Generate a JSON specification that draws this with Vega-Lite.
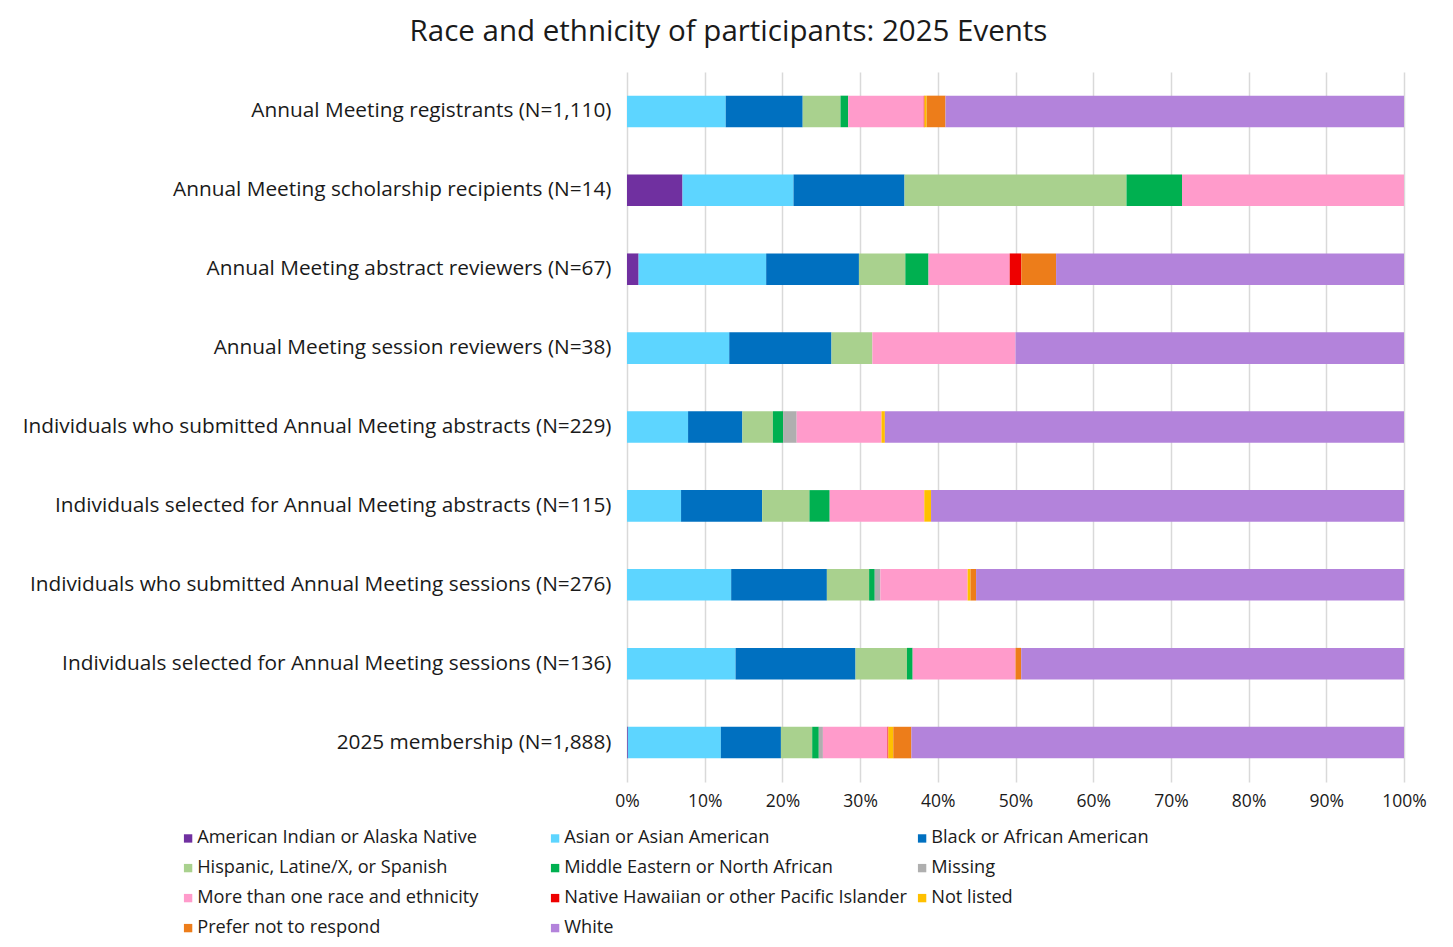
{
  "$schema": "https://vega.github.io/schema/vega-lite/v6.json",
  "width": 777,
  "height": 710,
  "autosize": {"type": "none"},
  "padding": {"left": 627, "top": 72, "right": 49, "bottom": 165},
  "background": "white",
  "title": {
    "text": "Race and ethnicity of participants: 2025 Events",
    "font": "Open Sans",
    "fontSize": 29.5,
    "fontWeight": "normal",
    "color": "#1a1a1a",
    "anchor": "middle",
    "frame": "group",
    "dx": -287,
    "offset": 25
  },
  "config": {
    "view": {"stroke": null},
    "font": "Open Sans"
  },
  "data": {
    "values": [
      {"group": "Annual Meeting registrants (N=1,110)", "race": "Asian or Asian American", "n": 141},
      {"group": "Annual Meeting registrants (N=1,110)", "race": "Black or African American", "n": 110},
      {"group": "Annual Meeting registrants (N=1,110)", "race": "Hispanic, Latine/X, or Spanish", "n": 54},
      {"group": "Annual Meeting registrants (N=1,110)", "race": "Middle Eastern or North African", "n": 11},
      {"group": "Annual Meeting registrants (N=1,110)", "race": "More than one race and ethnicity", "n": 108},
      {"group": "Annual Meeting registrants (N=1,110)", "race": "Native Hawaiian or other Pacific Islander", "n": 1},
      {"group": "Annual Meeting registrants (N=1,110)", "race": "Not listed", "n": 3},
      {"group": "Annual Meeting registrants (N=1,110)", "race": "Prefer not to respond", "n": 27},
      {"group": "Annual Meeting registrants (N=1,110)", "race": "White", "n": 655},

      {"group": "Annual Meeting scholarship recipients (N=14)", "race": "American Indian or Alaska Native", "n": 1},
      {"group": "Annual Meeting scholarship recipients (N=14)", "race": "Asian or Asian American", "n": 2},
      {"group": "Annual Meeting scholarship recipients (N=14)", "race": "Black or African American", "n": 2},
      {"group": "Annual Meeting scholarship recipients (N=14)", "race": "Hispanic, Latine/X, or Spanish", "n": 4},
      {"group": "Annual Meeting scholarship recipients (N=14)", "race": "Middle Eastern or North African", "n": 1},
      {"group": "Annual Meeting scholarship recipients (N=14)", "race": "More than one race and ethnicity", "n": 4},

      {"group": "Annual Meeting abstract reviewers (N=67)", "race": "American Indian or Alaska Native", "n": 1},
      {"group": "Annual Meeting abstract reviewers (N=67)", "race": "Asian or Asian American", "n": 11},
      {"group": "Annual Meeting abstract reviewers (N=67)", "race": "Black or African American", "n": 8},
      {"group": "Annual Meeting abstract reviewers (N=67)", "race": "Hispanic, Latine/X, or Spanish", "n": 4},
      {"group": "Annual Meeting abstract reviewers (N=67)", "race": "Middle Eastern or North African", "n": 2},
      {"group": "Annual Meeting abstract reviewers (N=67)", "race": "More than one race and ethnicity", "n": 7},
      {"group": "Annual Meeting abstract reviewers (N=67)", "race": "Native Hawaiian or other Pacific Islander", "n": 1},
      {"group": "Annual Meeting abstract reviewers (N=67)", "race": "Prefer not to respond", "n": 3},
      {"group": "Annual Meeting abstract reviewers (N=67)", "race": "White", "n": 30},

      {"group": "Annual Meeting session reviewers (N=38)", "race": "Asian or Asian American", "n": 5},
      {"group": "Annual Meeting session reviewers (N=38)", "race": "Black or African American", "n": 5},
      {"group": "Annual Meeting session reviewers (N=38)", "race": "Hispanic, Latine/X, or Spanish", "n": 2},
      {"group": "Annual Meeting session reviewers (N=38)", "race": "More than one race and ethnicity", "n": 7},
      {"group": "Annual Meeting session reviewers (N=38)", "race": "White", "n": 19},

      {"group": "Individuals who submitted Annual Meeting abstracts (N=229)", "race": "Asian or Asian American", "n": 18},
      {"group": "Individuals who submitted Annual Meeting abstracts (N=229)", "race": "Black or African American", "n": 16},
      {"group": "Individuals who submitted Annual Meeting abstracts (N=229)", "race": "Hispanic, Latine/X, or Spanish", "n": 9},
      {"group": "Individuals who submitted Annual Meeting abstracts (N=229)", "race": "Middle Eastern or North African", "n": 3},
      {"group": "Individuals who submitted Annual Meeting abstracts (N=229)", "race": "Missing", "n": 4},
      {"group": "Individuals who submitted Annual Meeting abstracts (N=229)", "race": "More than one race and ethnicity", "n": 25},
      {"group": "Individuals who submitted Annual Meeting abstracts (N=229)", "race": "Not listed", "n": 1},
      {"group": "Individuals who submitted Annual Meeting abstracts (N=229)", "race": "White", "n": 153},

      {"group": "Individuals selected for Annual Meeting abstracts (N=115)", "race": "Asian or Asian American", "n": 8},
      {"group": "Individuals selected for Annual Meeting abstracts (N=115)", "race": "Black or African American", "n": 12},
      {"group": "Individuals selected for Annual Meeting abstracts (N=115)", "race": "Hispanic, Latine/X, or Spanish", "n": 7},
      {"group": "Individuals selected for Annual Meeting abstracts (N=115)", "race": "Middle Eastern or North African", "n": 3},
      {"group": "Individuals selected for Annual Meeting abstracts (N=115)", "race": "More than one race and ethnicity", "n": 14},
      {"group": "Individuals selected for Annual Meeting abstracts (N=115)", "race": "Not listed", "n": 1},
      {"group": "Individuals selected for Annual Meeting abstracts (N=115)", "race": "White", "n": 70},

      {"group": "Individuals who submitted Annual Meeting sessions (N=276)", "race": "Asian or Asian American", "n": 37},
      {"group": "Individuals who submitted Annual Meeting sessions (N=276)", "race": "Black or African American", "n": 34},
      {"group": "Individuals who submitted Annual Meeting sessions (N=276)", "race": "Hispanic, Latine/X, or Spanish", "n": 15},
      {"group": "Individuals who submitted Annual Meeting sessions (N=276)", "race": "Middle Eastern or North African", "n": 2},
      {"group": "Individuals who submitted Annual Meeting sessions (N=276)", "race": "Missing", "n": 2},
      {"group": "Individuals who submitted Annual Meeting sessions (N=276)", "race": "More than one race and ethnicity", "n": 31},
      {"group": "Individuals who submitted Annual Meeting sessions (N=276)", "race": "Not listed", "n": 1},
      {"group": "Individuals who submitted Annual Meeting sessions (N=276)", "race": "Prefer not to respond", "n": 2},
      {"group": "Individuals who submitted Annual Meeting sessions (N=276)", "race": "White", "n": 152},

      {"group": "Individuals selected for Annual Meeting sessions (N=136)", "race": "Asian or Asian American", "n": 19},
      {"group": "Individuals selected for Annual Meeting sessions (N=136)", "race": "Black or African American", "n": 21},
      {"group": "Individuals selected for Annual Meeting sessions (N=136)", "race": "Hispanic, Latine/X, or Spanish", "n": 9},
      {"group": "Individuals selected for Annual Meeting sessions (N=136)", "race": "Middle Eastern or North African", "n": 1},
      {"group": "Individuals selected for Annual Meeting sessions (N=136)", "race": "More than one race and ethnicity", "n": 18},
      {"group": "Individuals selected for Annual Meeting sessions (N=136)", "race": "Prefer not to respond", "n": 1},
      {"group": "Individuals selected for Annual Meeting sessions (N=136)", "race": "White", "n": 67},

      {"group": "2025 membership (N=1,888)", "race": "American Indian or Alaska Native", "n": 2},
      {"group": "2025 membership (N=1,888)", "race": "Asian or Asian American", "n": 226},
      {"group": "2025 membership (N=1,888)", "race": "Black or African American", "n": 146},
      {"group": "2025 membership (N=1,888)", "race": "Hispanic, Latine/X, or Spanish", "n": 76},
      {"group": "2025 membership (N=1,888)", "race": "Middle Eastern or North African", "n": 16},
      {"group": "2025 membership (N=1,888)", "race": "Missing", "n": 10},
      {"group": "2025 membership (N=1,888)", "race": "More than one race and ethnicity", "n": 157},
      {"group": "2025 membership (N=1,888)", "race": "Native Hawaiian or other Pacific Islander", "n": 2},
      {"group": "2025 membership (N=1,888)", "race": "Not listed", "n": 12},
      {"group": "2025 membership (N=1,888)", "race": "Prefer not to respond", "n": 44},
      {"group": "2025 membership (N=1,888)", "race": "White", "n": 1197}
    ]
  },
  "mark": {"type": "bar"},
  "encoding": {
    "y": {
      "field": "group",
      "type": "nominal",
      "sort": null,
      "scale": {"paddingInner": 0.6, "paddingOuter": 0.3},
      "axis": {
        "title": null,
        "domain": false,
        "ticks": false,
        "labelFont": "Open Sans",
        "labelFontSize": 20.8,
        "labelColor": "#1a1a1a",
        "labelPadding": 16,
        "labelLimit": 700
      }
    },
    "x": {
      "field": "n",
      "type": "quantitative",
      "stack": "normalize",
      "scale": {"domain": [0, 1], "nice": false},
      "axis": {
        "title": null,
        "format": ".0%",
        "values": [0, 0.1, 0.2, 0.3, 0.4, 0.5, 0.6, 0.7, 0.8, 0.9, 1],
        "domain": false,
        "ticks": false,
        "grid": true,
        "gridColor": "#d9d9d9",
        "gridWidth": 1.5,
        "labelFlush": false,
        "labelFont": "Open Sans",
        "labelFontSize": 17.5,
        "labelColor": "#1a1a1a",
        "labelPadding": 10
      }
    },
    "color": {
      "field": "race",
      "type": "nominal",
      "scale": {
        "domain": [
          "American Indian or Alaska Native",
          "Asian or Asian American",
          "Black or African American",
          "Hispanic, Latine/X, or Spanish",
          "Middle Eastern or North African",
          "Missing",
          "More than one race and ethnicity",
          "Native Hawaiian or other Pacific Islander",
          "Not listed",
          "Prefer not to respond",
          "White"
        ],
        "range": ["#7030A0", "#5DD5FF", "#0070C0", "#A9D18E", "#00B050", "#AFAFAF", "#FF9BCB", "#EE0000", "#FFC000", "#ED7D1A", "#B383DB"]
      },
      "legend": {
        "title": null,
        "orient": "none",
        "legendX": -448,
        "legendY": 757,
        "columns": 3,
        "direction": "horizontal",
        "gridAlign": "all",
        "columnPadding": 6,
        "rowPadding": 11,
        "symbolType": "square",
        "symbolSize": 70,
        "symbolStrokeWidth": 0,
        "symbolOffset": 0,
        "labelOffset": 0,
        "labelFont": "Open Sans",
        "labelFontSize": 18.2,
        "labelColor": "#1a1a1a",
        "labelLimit": 500
      }
    }
  }
}
